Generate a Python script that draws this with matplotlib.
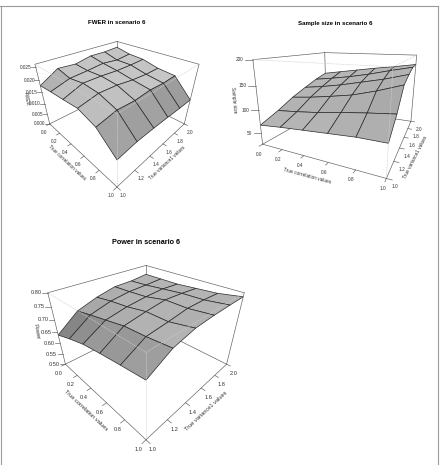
import numpy as np
import matplotlib
matplotlib.use('Agg')
import matplotlib.pyplot as plt
from matplotlib.lines import Line2D
from mpl_toolkits.mplot3d import proj3d

plt.rcParams['font.family'] = ['Liberation Sans', 'DejaVu Sans']

correlation = [0.0, 0.2, 0.4, 0.6, 0.8, 1.0]
variance1 = [1.0, 1.2, 1.4, 1.6, 1.8, 2.0]

# rows follow correlation, columns follow variance1
fwer = [[0.0178, 0.0221, 0.0216, 0.0230, 0.0229, 0.0233],
        [0.0185, 0.0207, 0.0212, 0.0219, 0.0212, 0.0219],
        [0.0190, 0.0217, 0.0216, 0.0212, 0.0212, 0.0215],
        [0.0196, 0.0212, 0.0210, 0.0201, 0.0197, 0.0198],
        [0.0175, 0.0190, 0.0186, 0.0192, 0.0188, 0.0191],
        [0.0115, 0.0123, 0.0123, 0.0121, 0.0118, 0.0117]]
sample_size = [[68, 83, 101, 115, 128, 138],
               [73, 88, 107, 122, 135, 146],
               [77, 94, 115, 131, 143, 154],
               [81, 102, 124, 142, 153, 162],
               [85, 109, 138, 153, 165, 169],
               [86, 115, 155, 167, 176, 177]]
power = [[0.637, 0.702, 0.730, 0.749, 0.751, 0.760],
         [0.663, 0.719, 0.742, 0.753, 0.756, 0.760],
         [0.686, 0.734, 0.750, 0.759, 0.764, 0.760],
         [0.700, 0.750, 0.764, 0.775, 0.772, 0.766],
         [0.712, 0.755, 0.764, 0.775, 0.775, 0.772],
         [0.723, 0.764, 0.781, 0.785, 0.786, 0.786]]

corr_ticks = [0.0, 0.2, 0.4, 0.6, 0.8, 1.0]
var_ticks = [1.0, 1.2, 1.4, 1.6, 1.8, 2.0]
fwer_ticks = [0.000, 0.005, 0.010, 0.015, 0.020, 0.025]
size_ticks = [50, 100, 150, 200]
power_ticks = [0.50, 0.55, 0.60, 0.65, 0.70, 0.75, 0.80]

FW, FH = 441, 465
DARK = '#5a5a5a'
LIGHT = '#cfcfcf'
TEXT = '#333333'

fig = plt.figure(figsize=(FW / 100, FH / 100), dpi=100)


def fig_text(x, y, s, size, rot=0, weight='normal'):
    fig.text(x / FW, 1 - y / FH, s, fontsize=size, rotation=rot, fontweight=weight,
             ha='center', va='center', color=TEXT if weight == 'normal' else 'black',
             rotation_mode='anchor')


def surface(cx, cy, F, elev, azim, values, zlim, zticks, zfmt, base, gain, size, xoff, yoff, zoff, ztick=0.045):
    W = 300.0
    f = F * 0.185 / W
    left = cx - 0.095 / 0.185 * W
    bottom = FH - cy - 0.095 / 0.185 * W
    ax = fig.add_axes([left / FW, bottom / FH, W / FW, W / FH],
                      projection='3d', computed_zorder=False)
    ax.patch.set_alpha(0)
    ax.set_proj_type('persp', focal_length=f)
    ax.view_init(elev=elev, azim=azim)
    ax.set_box_aspect((1, 1, 0.666), zoom=4.585 * f)

    X, Y = np.meshgrid(correlation, variance1, indexing='ij')
    Z = np.array(values, dtype=float)

    # facet shade falls off with the slope in box units
    dzx = np.diff(Z, axis=0)[:, :-1] / (zlim[1] - zlim[0]) * 0.666 / 0.2
    dzy = np.diff(Z, axis=1)[:-1, :] / (zlim[1] - zlim[0]) * 0.666 / 0.2
    nz = 1 / np.sqrt(1 + dzx ** 2 + dzy ** 2)
    g = base + gain * (nz - 1)
    facets = np.dstack([g, g, g, np.ones_like(g)])

    surf = ax.plot_surface(X, Y, Z, facecolors=facets, shade=False, rstride=1, cstride=1, zorder=2)
    surf.set_edgecolor('#2a2a2a')
    surf.set_linewidth(0.5)

    ax.set_xlim(0, 1)
    ax.set_ylim(1, 2)
    ax.set_zlim(*zlim)
    ax.set_axis_off()

    z0, z1 = zlim
    line = dict(color=DARK, lw=0.45)
    # bounding box: back edges sit behind the surface
    for xs, ys, zs in [((0, 0), (1, 2), (z0, z0)), ((0, 1), (2, 2), (z0, z0)), ((0, 0), (2, 2), (z0, z1))]:
        ax.plot(xs, ys, zs, zorder=1, **line)
    for xs, ys, zs in [((0, 1), (1, 1), (z0, z0)), ((1, 1), (1, 2), (z0, z0)),
                       ((0, 0), (1, 1), (z0, z1)), ((1, 1), (2, 2), (z0, z1)),
                       ((0, 0), (1, 2), (z1, z1)), ((0, 1), (2, 2), (z1, z1))]:
        ax.plot(xs, ys, zs, zorder=3, **line)
    # the near edges are hidden, so they stay faint
    for xs, ys, zs in [((0, 1), (1, 1), (z1, z1)), ((1, 1), (1, 2), (z1, z1)), ((1, 1), (1, 1), (z0, z1))]:
        ax.plot(xs, ys, zs, zorder=3, color=LIGHT, lw=0.5, ls=(0, (1.5, 1)))

    M = ax.get_proj()

    def mark(x, y, z, s, dx, dy, ha='center'):
        a, b, _ = proj3d.proj_transform(x, y, z, M)
        ax.annotate(s, (a, b), xytext=(dx * 0.72, -dy * 0.72), textcoords='offset points',
                    fontsize=size, color=TEXT, ha=ha, va='center', annotation_clip=False)

    for t in corr_ticks:
        ax.plot((t, t), (1, 0.965), (z0, z0), zorder=3, **line)
        mark(t, 1, z0, '%.1f' % t, *xoff)
    for t in var_ticks:
        ax.plot((1, 1.035), (t, t), (z0, z0), zorder=3, **line)
        mark(1, t, z0, '%.1f' % t, *yoff)

    # value ticks point straight left on the page
    ang = np.radians(azim + 90)
    ux, uy = np.cos(ang), np.sin(ang)
    for t in zticks:
        ax.plot((0, -ztick * ux), (1, 1 - ztick * uy), (t, t), zorder=3, **line)
        mark(0, 1, t, zfmt % t, zoff, 0, ha='right')
    return ax


surface(117, 97, 187, 32, -45, fwer, (0, 0.026), fwer_ticks, '%.3f', 0.78, 0.65, 3.4, (-6, 8.5), (6, 8.5), -4)
surface(346, 96, 206, 15, -65, sample_size, (25, 200), size_ticks, '%d', 0.73, 0.5, 3.4, (-4, 10), (8, 8), -9, 0.055)
surface(146, 332, 224, 32, -45, power, (0.5, 0.8), power_ticks, '%.2f', 0.71, 0.87, 4.1, (-7, 9.5), (7, 9.5), -6)

fig_text(117, 23, 'FWER in scenario 6', 4.4, weight='bold')
fig_text(335, 23, 'Sample size in scenario 6', 4.4, weight='bold')
fig_text(146, 242, 'Power in scenario 6', 5.2, weight='bold')

fig_text(67, 163, 'True correlation values', 3.4, rot=-43)
fig_text(167, 163, 'True variance1 values', 3.4, rot=43)
fig_text(26, 99, 'FWER', 3.4, rot=-82)

fig_text(307, 176, 'True correlation values', 3.4, rot=-15)
fig_text(415, 157, 'True variance1 values', 3.4, rot=63)
fig_text(234, 100, 'Sample size', 3.4, rot=-85)

fig_text(86, 410, 'True correlation values', 4.1, rot=-43)
fig_text(206, 411, 'True variance1 values', 4.1, rot=43)
fig_text(36, 332, 'Power', 4.1, rot=-80)

# thin page frame, open at the bottom
for xs, ys in [((0, 438), (6.5, 6.5)), ((0.5, 0.5), (6, 465)), ((438, 438), (6, 465))]:
    fig.add_artist(Line2D([x / FW for x in xs], [1 - y / FH for y in ys], color='#9a9a9a', lw=0.8))

fig.savefig('out.png', dpi=100)
